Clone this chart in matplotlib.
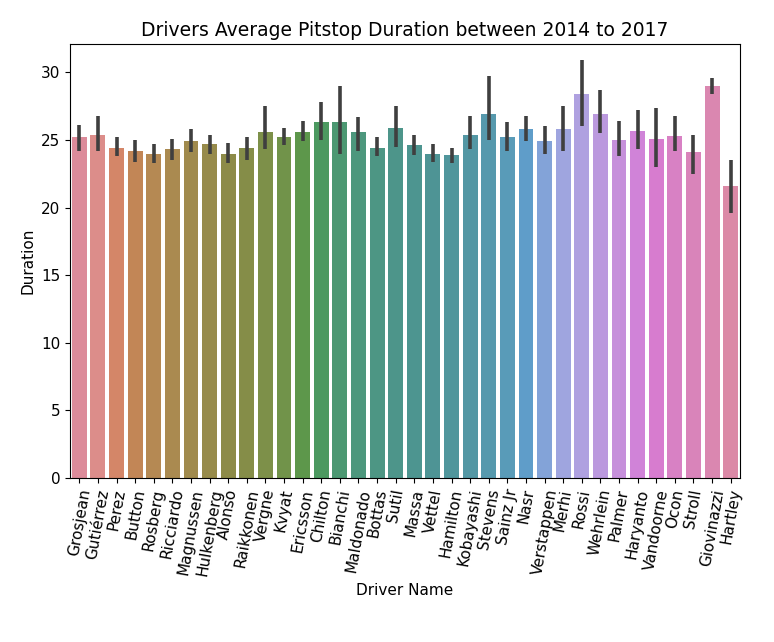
import numpy as np
import matplotlib.pyplot as plt
import seaborn as sns

drivers = ['Grosjean', 'Gutiérrez', 'Perez', 'Button', 'Rosberg', 'Ricciardo', 'Magnussen',
           'Hulkenberg', 'Alonso', 'Raikkonen', 'Vergne', 'Kvyat', 'Ericsson', 'Chilton',
           'Bianchi', 'Maldonado', 'Bottas', 'Sutil', 'Massa', 'Vettel', 'Hamilton',
           'Kobayashi', 'Stevens', 'Sainz Jr', 'Nasr', 'Verstappen', 'Merhi', 'Rossi',
           'Wehrlein', 'Palmer', 'Haryanto', 'Vandoorne', 'Ocon', 'Stroll', 'Giovinazzi', 'Hartley']
mean = [25.2, 25.4, 24.4, 24.2, 24.0, 24.3, 24.9, 24.7, 24.0, 24.4, 25.6, 25.2, 25.6, 26.3,
        26.3, 25.6, 24.4, 25.9, 24.6, 24.0, 23.9, 25.4, 26.9, 25.2, 25.8, 24.9, 25.8, 28.4,
        26.9, 25.0, 25.7, 25.1, 25.3, 24.1, 29.0, 21.6]
ci_lo = [24.2, 24.2, 23.8, 23.4, 23.3, 23.5, 24.1, 24.0, 23.3, 23.5, 24.3, 24.6, 24.9, 25.0,
         24.0, 24.2, 23.8, 24.5, 23.9, 23.4, 23.3, 24.3, 25.0, 24.2, 24.9, 24.0, 24.2, 26.0,
         25.5, 23.8, 24.3, 23.0, 24.2, 22.5, 28.4, 19.6]
ci_hi = [26.1, 26.8, 25.2, 25.0, 24.7, 25.1, 25.8, 25.4, 24.8, 25.2, 27.5, 25.9, 26.4, 27.8,
         29.0, 26.7, 25.2, 27.5, 25.4, 24.7, 24.4, 26.8, 29.7, 26.3, 26.8, 26.0, 27.5, 30.9,
         28.7, 26.4, 27.2, 27.4, 26.8, 25.4, 29.6, 23.5]

pal = [sns.desaturate(c, 0.6) for c in sns.color_palette('husl', len(drivers))]
x = np.arange(len(drivers))

fig = plt.figure(figsize=(7.74, 6.42), dpi=100)
ax = fig.add_axes([70/774, 1-478/642, 670/774, 434/642])
ax.bar(x, mean, width=0.8, color=pal)
ax.vlines(x, ci_lo, ci_hi, color='#3f3f3f', lw=2.6)
ax.set_xlim(-0.5, len(drivers)-0.5)
ax.set_ylim(0, 32.1)
ax.set_xticks(x)
ax.set_xticklabels(drivers, rotation=80, fontsize=11)
ax.tick_params(labelsize=11)
ax.set_xlabel('Driver Name', fontsize=11)
ax.set_ylabel('Duration', fontsize=11)
ax.set_title('Drivers Average Pitstop Duration between 2014 to 2017', fontsize=13.5)
fig.savefig('out.png', dpi=100)
